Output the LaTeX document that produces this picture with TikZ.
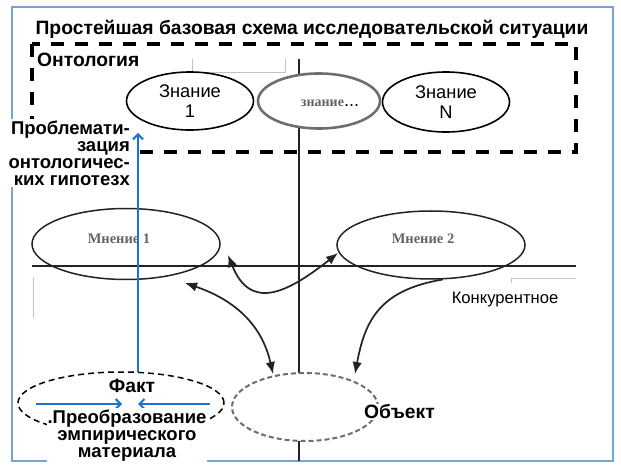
\documentclass[tikz,border=0pt]{standalone}
\usepackage{fontspec}
\setmainfont{Liberation Sans}
\newfontfamily\serifcyr{Liberation Serif}
\usetikzlibrary{arrows.meta,shapes.geometric}
\definecolor{framecol}{RGB}{118,164,214}
\definecolor{bluearr}{RGB}{26,115,204}
\definecolor{faint}{RGB}{195,195,195}
\definecolor{opgray}{RGB}{100,100,100}
\definecolor{conncol}{RGB}{35,35,35}
\definecolor{objgray}{RGB}{110,110,110}
\begin{document}
\begin{tikzpicture}[x=1pt,y=-1pt,
  boldtxt/.style={font=\fontsize{19.3}{17}\selectfont\bfseries, inner sep=1pt},
  blocktxt/.style={font=\fontsize{18.5}{17}\selectfont\bfseries, fill=white},
  know/.style={ellipse, draw=black, line width=1.6pt, fill=white, inner sep=0pt,
    font=\fontsize{18.3}{20}\selectfont, align=center},
  opinion/.style={ellipse, draw=conncol, line width=1.5pt, inner sep=0pt},
  optext/.style={font=\serifcyr\fontsize{14.5}{16}\selectfont\bfseries, text=opgray},
  axis/.style={line width=1.5pt, draw=conncol},
  dashbox/.style={line width=3.8pt, dash pattern=on 13pt off 11pt},
  conn/.style={line width=1.7pt, draw=conncol},
  ctip/.tip={Latex[length=12pt,width=9.5pt]},
  bluel/.style={line width=2pt, draw=bluearr},
  btip/.tip={Straight Barb[length=5pt,width=10pt]}
]
\useasboundingbox (0,0) rectangle (621,470);
\fill[white] (0,0) rectangle (621,470);

% outer frame
\draw[framecol, line width=1.5pt] (12,7) rectangle (613,461);

% faint grey brackets
\draw[faint, line width=0.8pt] (192,59) -- (192,72) -- (285,72) -- (285,59);
\draw[faint, line width=0.8pt] (33,277) -- (33,318);
\draw[faint, line width=0.8pt] (511,283) -- (511,278) -- (576,278);

% axes
\coordinate (vtop) at (299,59);
\coordinate (vbot) at (299,461);
\coordinate (hl) at (32,266);
\coordinate (hr) at (576,266);
\draw[axis] (vtop) -- (vbot);
\draw[axis] (hl) -- (hr);

% ontology box
\draw[dashbox] (32,44) rectangle (576,152);

% title
\node[boldtxt] (title) at (312,29) {Простейшая базовая схема исследовательской ситуации};
\node[boldtxt, anchor=west] (onto) at (36,60) {Онтология};

% opinions
\node[opinion, minimum width=188pt, minimum height=71pt] (m1) at (126,244) {};
\node[opinion, minimum width=188pt, minimum height=68pt] (m2) at (431,245) {};
\node[optext] (m1t) at (119,239) {Мнение 1};
\node[optext] (m2t) at (423,239) {Мнение 2};

% blue vertical arrow
\coordinate (bstart) at (138,372);
\coordinate (bend) at (138,133);
\draw[bluel, -{btip}] (bstart) -- (bend);

% knowledge ellipses
\node[know, minimum width=127pt, minimum height=58pt] (k1) at (190,101) {Знание\\1};
\node[ellipse, draw=objgray, line width=2.6pt, fill=white, inner sep=0pt,
      minimum width=122pt, minimum height=55pt] (k2) at (319,101) {};
\node[inner sep=0pt] (k2t) at (330,103) {{\serifcyr\fontsize{14}{16}\selectfont\bfseries\color{opgray}знание}{\fontsize{18}{20}\selectfont...}};
\node[know, minimum width=127pt, minimum height=60pt] (kn) at (446,102) {Знание\\N};

% problematization label
\node[blocktxt, anchor=east, align=right, inner sep=2pt] (prob) at (132,153)
  {Проблемати-\\зация\\онтологичес-\\ких гипотезх};

% fact ellipse
\node[ellipse, draw=black, line width=1.5pt, dash pattern=on 6pt off 4pt, inner sep=0pt,
      minimum width=206pt, minimum height=62pt] (fakt) at (121,403) {};
\coordinate (bl1) at (36,404);
\coordinate (bl2) at (122,404);
\coordinate (br1) at (210,404);
\coordinate (br2) at (138,404);
\draw[bluel, -{btip}] (bl1) -- (bl2);
\draw[bluel, -{btip}] (br1) -- (br2);
\node[boldtxt] (fakttxt) at (132,386) {Факт};
\node[blocktxt, align=center, inner xsep=1pt, inner ysep=2.5pt] (preob) at (127,436)
  {.Преобразование\\эмпирического\\материала};

% object ellipse
\node[ellipse, draw=objgray, line width=2pt, dash pattern=on 5pt off 3pt, fill=white, inner sep=0pt,
      minimum width=146pt, minimum height=68pt] (obj) at (305,407) {};
\node[boldtxt, fill=white, anchor=west] (objtxt) at (363,412) {Объект};

% concurrent label
\node[font=\fontsize{16.6}{18}\selectfont, inner sep=1pt] (konk) at (505,300) {Конкурентное};

% curved connectors
\coordinate (a1s) at (228,255);
\coordinate (a1e) at (338,253);
\coordinate (a2s) at (185,283);
\coordinate (a2e) at (273,374);
\coordinate (a3e) at (355,374);
\draw[conn, {ctip}-{ctip}] (a1s) .. controls (250,310) and (285,295) .. (a1e);
\draw[conn, {ctip}-{ctip}] (a2s) .. controls (235,300) and (262,325) .. (a2e);
\draw[conn, -{ctip}] (m2.-71) .. controls (380,290) and (365,320) .. (a3e);
\end{tikzpicture}
\end{document}
